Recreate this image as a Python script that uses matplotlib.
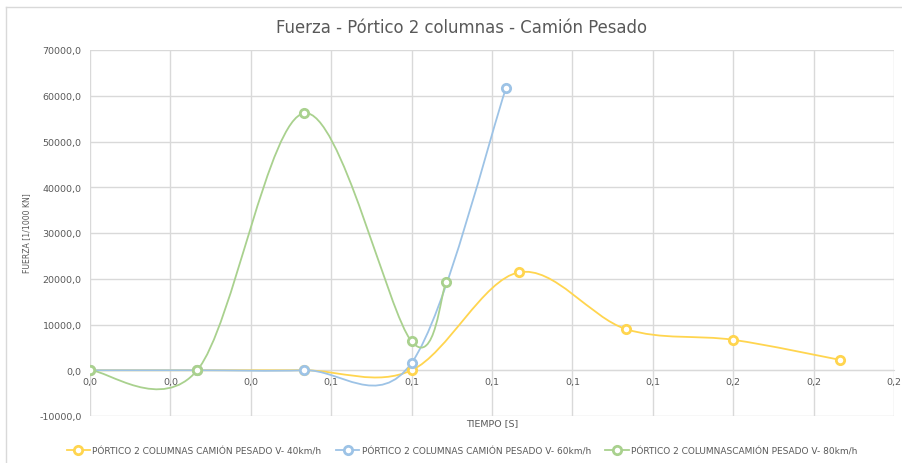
import matplotlib
matplotlib.use("Agg")
import matplotlib.pyplot as plt
from matplotlib.path import Path
from matplotlib.patches import PathPatch
from matplotlib.lines import Line2D
import numpy as np

# ===== DATA =====
tiempo_40 = [0.0, 0.02667, 0.05333, 0.08, 0.10667, 0.13333, 0.16, 0.18667]
fuerza_40 = [0.0, 0.0, 0.0, 0.0, 21400.0, 9000.0, 6650.0, 2250.0]

tiempo_60 = [0.0, 0.02667, 0.05333, 0.08, 0.1035]
fuerza_60 = [0.0, 0.0, 0.0, 1600.0, 61700.0]

tiempo_80 = [0.0, 0.02667, 0.05333, 0.08, 0.0886]
fuerza_80 = [0.0, 0.0, 56200.0, 6300.0, 19200.0]

series_names = [
    "PÓRTICO 2 COLUMNAS CAMIÓN PESADO V- 40km/h",
    "PÓRTICO 2 COLUMNAS CAMIÓN PESADO V- 60km/h",
    "PÓRTICO 2 COLUMNASCAMIÓN PESADO V- 80km/h",
]
series_colors = ["#FFD54F", "#9DC3E6", "#A9D18E"]

x_ticks = [0.0, 0.02, 0.04, 0.06, 0.08, 0.10, 0.12, 0.14, 0.16, 0.18, 0.20]
x_tick_labels = ["0,0", "0,0", "0,0", "0,1", "0,1", "0,1", "0,1", "0,1", "0,2", "0,2", "0,2"]
y_ticks = [-10000, 0, 10000, 20000, 30000, 40000, 50000, 60000, 70000]
y_tick_labels = ["-10000,0", "0,0", "10000,0", "20000,0", "30000,0",
                 "40000,0", "50000,0", "60000,0", "70000,0"]

TEXT_GRAY = "#595959"
GRID_GRAY = "#D9D9D9"
plt.rcParams["font.family"] = ["DejaVu Sans"]


def smooth_path(xs, ys):
    # cubic bezier segments, control points like a spreadsheet "smoothed line"
    pts = np.column_stack([xs, ys])
    n = len(pts)
    verts = [pts[0]]
    codes = [Path.MOVETO]
    for i in range(n - 1):
        p_prev = pts[i - 1] if i > 0 else pts[i]
        p_next2 = pts[i + 2] if i + 2 < n else pts[i + 1]
        c1 = pts[i] + (pts[i + 1] - p_prev) / 6.0
        c2 = pts[i + 1] - (p_next2 - pts[i]) / 6.0
        verts += [c1, c2, pts[i + 1]]
        codes += [Path.CURVE4] * 3
    return Path(verts, codes)


fig = plt.figure(figsize=(9.02, 4.64), dpi=100)
ax = fig.add_axes([90 / 902, 47 / 464, 804 / 902, 366 / 464])

for xs, ys, color in zip([tiempo_40, tiempo_60, tiempo_80],
                         [fuerza_40, fuerza_60, fuerza_80], series_colors):
    ax.add_patch(PathPatch(smooth_path(xs, ys), facecolor="none",
                           edgecolor=color, linewidth=1.3, zorder=3))
    ax.plot(xs, ys, linestyle="none", marker="o", markersize=6,
            markerfacecolor="white", markeredgecolor=color,
            markeredgewidth=2.0, zorder=4)

ax.set_xlim(0, 0.2)
ax.set_ylim(-10000, 70000)
ax.set_xticks(x_ticks)
ax.set_xticklabels(x_tick_labels)
ax.set_yticks(y_ticks)
ax.set_yticklabels(y_tick_labels)

ax.grid(True, color=GRID_GRAY, linewidth=1.0)
ax.set_axisbelow(True)
for s in ["top", "right", "left"]:
    ax.spines[s].set_visible(False)
ax.spines["bottom"].set_position(("data", 0))
ax.spines["bottom"].set_color(GRID_GRAY)
ax.tick_params(axis="both", length=0, colors=TEXT_GRAY, labelsize=6.8)
ax.tick_params(axis="y", pad=6)
ax.tick_params(axis="x", pad=5)

# outer frame lines of the chart area
fig.add_artist(Line2D([6 / 902, 6 / 902], [0, 1 - 8 / 464], color=GRID_GRAY,
                      lw=1.0, transform=fig.transFigure))
fig.add_artist(Line2D([6 / 902, 1], [1 - 8 / 464, 1 - 8 / 464], color=GRID_GRAY,
                      lw=1.0, transform=fig.transFigure))

fig.text(461 / 902, 1 - 28 / 464, "Fuerza - Pórtico 2 columnas - Camión Pesado",
         ha="center", va="center", fontsize=11.9, color=TEXT_GRAY)
fig.text(27 / 902, 1 - 233 / 464, "FUERZA [1/1000 KN]", rotation=90,
         ha="center", va="center", fontsize=5.6, color=TEXT_GRAY)
fig.text(492 / 902, 1 - 424 / 464, "TIEMPO [S]", ha="center", va="center",
         fontsize=6.8, color=TEXT_GRAY)

handles = [Line2D([], [], color=c, lw=1.3, marker="o", markersize=6,
                  markerfacecolor="white", markeredgecolor=c, markeredgewidth=2.0)
           for c in series_colors]
fig.legend(handles, series_names, loc="center", bbox_to_anchor=(462 / 902, 1 - 452 / 464),
           ncol=3, frameon=False, fontsize=6.5, handlelength=2.6, columnspacing=1.6,
           handletextpad=0.25, labelcolor=TEXT_GRAY)

fig.savefig("out.png", dpi=100)
